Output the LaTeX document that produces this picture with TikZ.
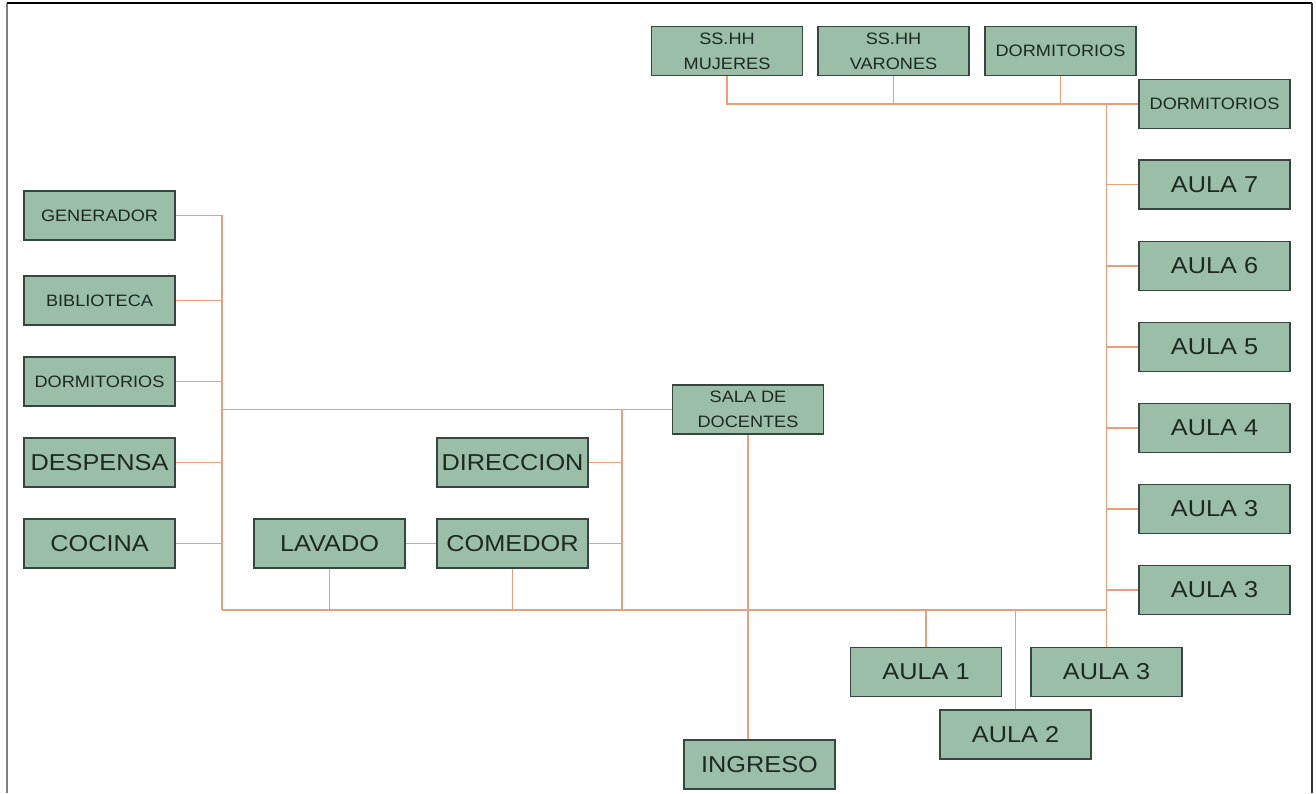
\documentclass[tikz,border=0pt]{standalone}
\usepackage{fontspec}
\setmainfont{Liberation Sans}[FakeStretch=1.1]
\definecolor{boxfill}{RGB}{155,190,168}
\definecolor{boxline}{RGB}{55,70,62}
\definecolor{txt}{RGB}{28,42,34}
\definecolor{link}{RGB}{233,160,122}
\begin{document}
\begin{tikzpicture}[x=1pt,y=-1pt,
  box/.style={draw=boxline, line width=1.6pt, fill=boxfill, text=txt,
    minimum width=151pt, minimum height=49pt, inner sep=0pt, align=center},
  big/.style={box, font=\fontsize{23}{26}\selectfont},
  small/.style={box, font=\fontsize{16.5}{25}\selectfont},
  conn/.style={draw=link, line width=1.7pt}]
\useasboundingbox (0,0) rectangle (1316,793);
% frame
\draw[gray, line width=2pt] (7,793) -- (7,3);
\draw[black, line width=1.5pt] (7,3) -- (1312,3);
\draw[black!80, line width=1.5pt] (1312,3) -- (1312,793);

% top row
\node[small] (mujeres) at (727,51) {SS.HH\\MUJERES};
\node[small] (varones) at (893.5,51) {SS.HH\\VARONES};
\node[small] (dormt) at (1060.5,51) {DORMITORIOS};
\node[small] (dormr) at (1214.5,104) {DORMITORIOS};
% right column
\node[big] (aula7) at (1214.5,184.5) {AULA 7};
\node[big] (aula6) at (1214.5,266) {AULA 6};
\node[big] (aula5) at (1214.5,347) {AULA 5};
\node[big] (aula4) at (1214.5,428) {AULA 4};
\node[big] (aula3a) at (1214.5,509) {AULA 3};
\node[big] (aula3b) at (1214.5,590) {AULA 3};
% bottom
\node[big] (aula1) at (926,672) {AULA 1};
\node[big] (aula3c) at (1106.5,672) {AULA 3};
\node[big] (aula2) at (1015.5,734.5) {AULA 2};
\node[big] (ingreso) at (759.5,764.5) {INGRESO};
% middle
\node[small] (sala) at (748,409.5) {SALA DE\\DOCENTES};
\node[big] (direccion) at (512.5,462.5) {DIRECCION};
\node[big] (comedor) at (512.5,543.5) {COMEDOR};
\node[big] (lavado) at (329.5,543.5) {LAVADO};
% left column
\node[small] (generador) at (99.5,215.5) {GENERADOR};
\node[small] (biblioteca) at (99.5,300.5) {BIBLIOTECA};
\node[small] (dorml) at (99.5,381.5) {DORMITORIOS};
\node[big] (despensa) at (99.5,462.5) {DESPENSA};
\node[big] (cocina) at (99.5,543.5) {COCINA};

\coordinate (bl) at (222,610);
\coordinate (br) at (1106.5,610);
\coordinate (mv) at (622,610);

% top bus
\draw[conn] (mujeres.south) |- (dormr.west);
\draw[conn] (varones.south) -- (varones.south |- dormr.west);
\draw[conn] (dormt.south) -- (dormt.south |- dormr.west);
% right vertical
\draw[conn] (aula3c.north) -- (aula3c.north |- dormr.west);
\foreach \n in {aula7,aula6,aula5,aula4,aula3a,aula3b}
  \draw[conn] (\n.west) -- (\n.west -| aula3c.north);
% bottom bus
\draw[conn] (bl) -- (br);
\draw[conn] (aula1.north) -- (aula1.north |- bl);
\draw[conn] (aula2.north) -- (aula2.north |- bl);
% left vertical
\draw[conn] (generador.east) -| (bl);
\foreach \n in {biblioteca,dorml,despensa,cocina}
  \draw[conn] (\n.east) -- (\n.east -| bl);
% middle
\draw[conn] (sala.west) -- (sala.west -| bl);
\draw[conn] (mv) -- (mv |- sala.west);
\draw[conn] (direccion.east) -- (direccion.east -| mv);
\draw[conn] (comedor.east) -- (comedor.east -| mv);
\draw[conn] (lavado.east) -- (comedor.west);
\draw[conn] (lavado.south) -- (lavado.south |- bl);
\draw[conn] (comedor.south) -- (comedor.south |- bl);
\draw[conn] (sala.south) -- (sala.south |- ingreso.north);
\end{tikzpicture}
\end{document}
